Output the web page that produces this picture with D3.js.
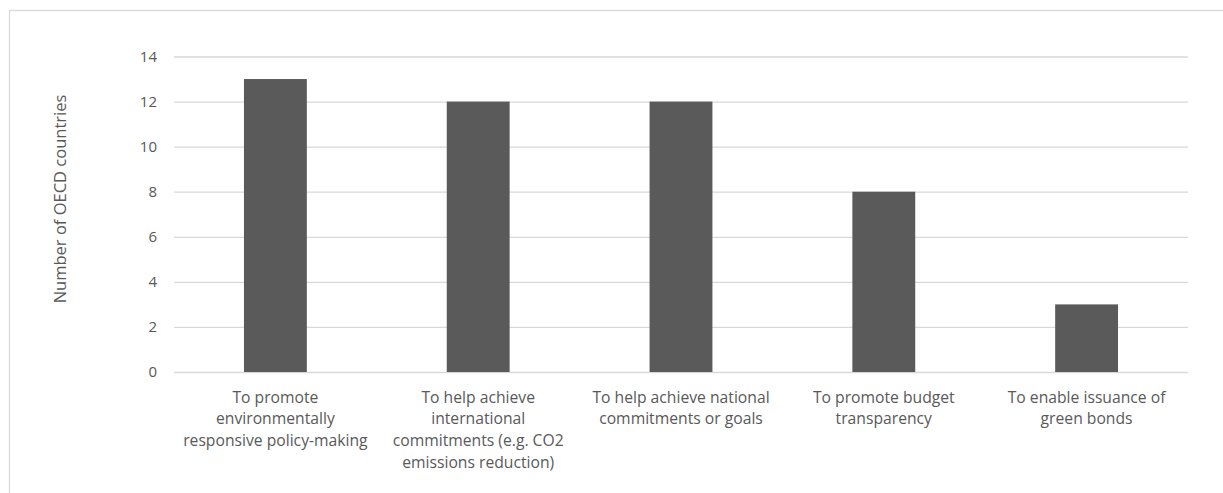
<!DOCTYPE html>
<html>
<head>
<meta charset="utf-8">
<script src="https://cdn.jsdelivr.net/npm/d3@7"></script>
<style>
  html, body { margin: 0; padding: 0; background: #fff; }
  svg { display: block; }
  text { font-family: "Open Sans", sans-serif; fill: #595959; }
</style>
</head>
<body>
<svg id="chart" width="1223" height="493"></svg>
<script>
// Purposes of green budgeting, number of OECD countries citing each
const categories = [
  "To promote environmentally responsive policy-making",
  "To help achieve international commitments (e.g. CO2 emissions reduction)",
  "To help achieve national commitments or goals",
  "To promote budget transparency",
  "To enable issuance of green bonds"
];
const categoryLines = [
  ["To promote", "environmentally", "responsive policy-making"],
  ["To help achieve", "international", "commitments (e.g. CO2", "emissions reduction)"],
  ["To help achieve national", "commitments or goals"],
  ["To promote budget", "transparency"],
  ["To enable issuance of", "green bonds"]
];
const values = [13, 12, 12, 8, 3];
const yTicks = [0, 2, 4, 6, 8, 10, 12, 14];
const yTitle = "Number of OECD countries";

const svg = d3.select("#chart");
const W = 1223, H = 493;
const plot = { left: 174, right: 1188, top: 56.5, bottom: 372 };

// chart frame
svg.append("rect")
  .attr("x", 9.5).attr("y", 10.5)
  .attr("width", W + 10).attr("height", H + 10)
  .attr("fill", "#fff").attr("stroke", "#d9d9d9").attr("stroke-width", 1.3);

const x = d3.scaleBand().domain(categories).range([plot.left, plot.right]).paddingInner(0.69).paddingOuter(0.345);
const y = d3.scaleLinear().domain([0, 14]).range([plot.bottom, plot.top]);

// gridlines + tick labels
const yAxis = d3.axisLeft(y).tickValues(yTicks).tickSize(-(plot.right - plot.left)).tickPadding(17);
const gy = svg.append("g").attr("transform", `translate(${plot.left},0)`).call(yAxis);
gy.select(".domain").remove();
gy.selectAll(".tick line").attr("stroke", "#d9d9d9").attr("stroke-width", 1.3);
gy.selectAll(".tick text").attr("font-size", 15).attr("fill", "#595959")
  .style("font-family", "'Open Sans', sans-serif");

// bars
svg.append("g").selectAll("rect").data(values).join("rect")
  .attr("x", (d, i) => x(categories[i]))
  .attr("width", x.bandwidth())
  .attr("y", d => y(d))
  .attr("height", d => y(0) - y(d))
  .attr("fill", "#5a5a5a");

// category labels
const lab = svg.append("g");
categories.forEach((c, i) => {
  const cx = x(c) + x.bandwidth() / 2;
  const t = lab.append("text").attr("text-anchor", "middle").attr("font-size", 15.7);
  categoryLines[i].forEach((ln, j) => {
    t.append("tspan").attr("x", cx).attr("y", 402.5 + j * 21.7).text(ln);
  });
});

// y-axis title
svg.append("text")
  .attr("transform", `translate(66,199) rotate(-90)`)
  .attr("text-anchor", "middle")
  .attr("font-size", 16.5)
  .text(yTitle);
</script>
</body>
</html>
